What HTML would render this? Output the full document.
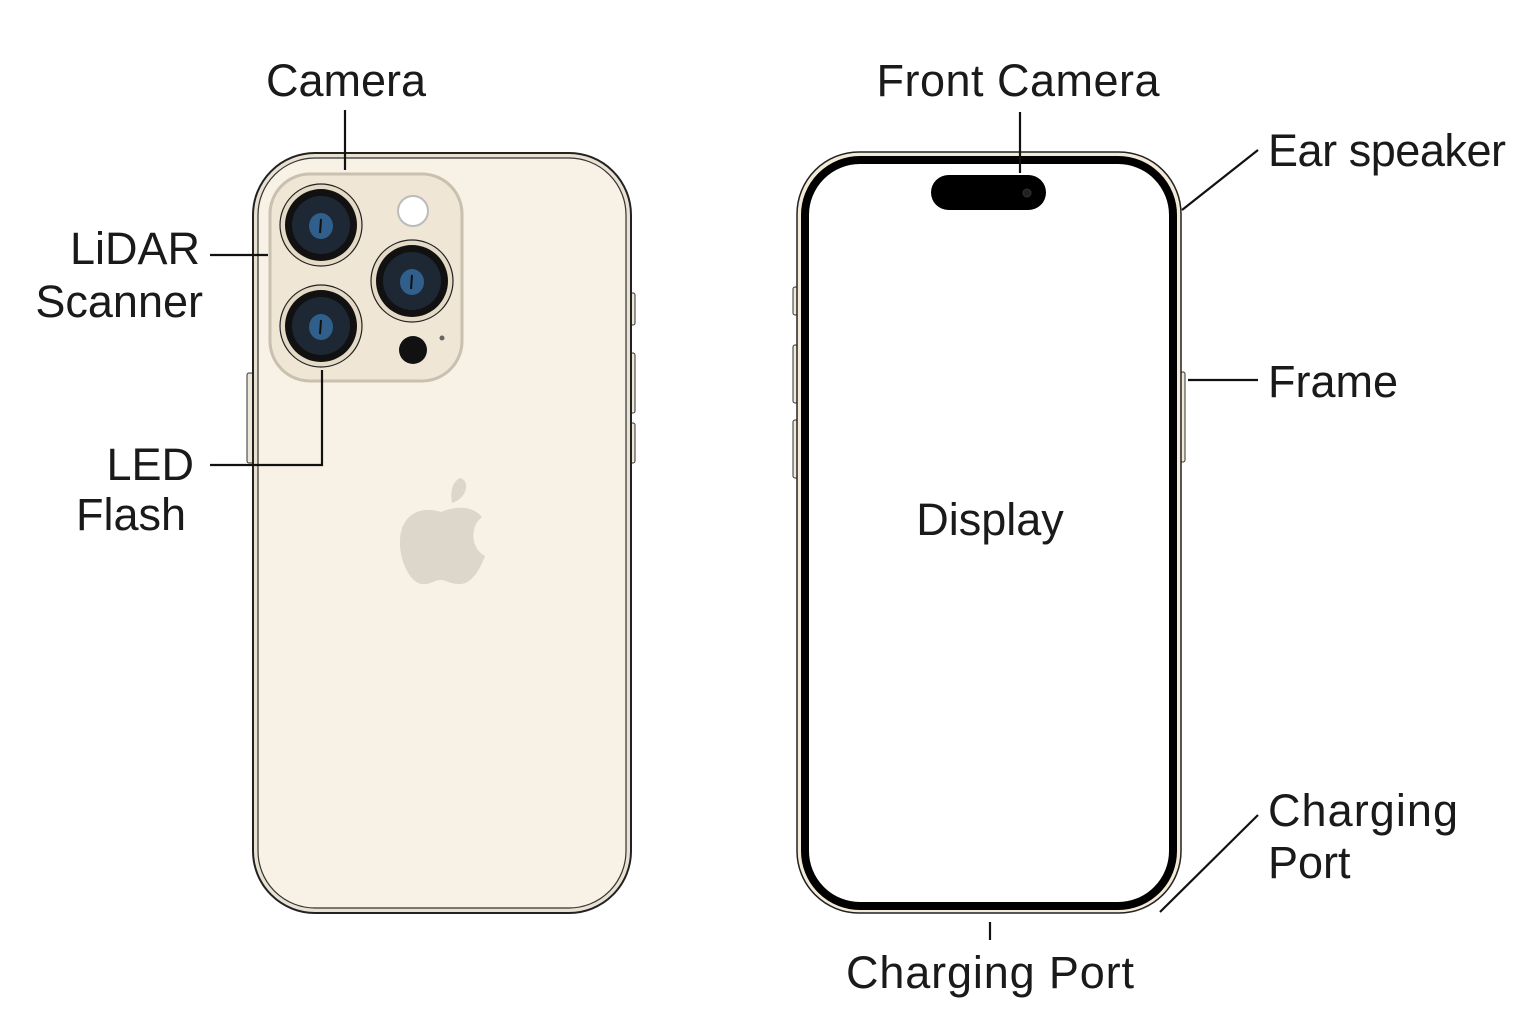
<!DOCTYPE html>
<html><head><meta charset="utf-8"><style>
html,body{margin:0;padding:0;background:#fff;}
svg{display:block;}
text{font-family:"Liberation Sans","DejaVu Sans",sans-serif;font-size:45px;fill:#1a1a1a;}
</style></head><body>
<svg width="1536" height="1024" viewBox="0 0 1536 1024" xmlns="http://www.w3.org/2000/svg">
<rect x="247" y="373" width="6" height="90" rx="2" fill="#eee6d6" stroke="#333" stroke-width="1"/>
<rect x="630" y="293" width="5" height="32" rx="2" fill="#eee6d6" stroke="#333" stroke-width="1"/>
<rect x="630" y="353" width="5" height="60" rx="2" fill="#eee6d6" stroke="#333" stroke-width="1"/>
<rect x="630" y="423" width="5" height="40" rx="2" fill="#eee6d6" stroke="#333" stroke-width="1"/>
<rect x="253" y="153" width="378" height="760" rx="62" fill="#e9e1d1" stroke="#222" stroke-width="2"/>
<rect x="258" y="158" width="368" height="750" rx="57" fill="#f8f1e5" stroke="#333" stroke-width="1.2"/>
<rect x="270" y="174" width="192" height="207" rx="40" fill="#efe6d6" stroke="#c9c0b0" stroke-width="3"/>
<g>
<circle cx="321" cy="225" r="41" fill="#e4dac6" stroke="#222" stroke-width="1.2"/>
<circle cx="321" cy="225" r="36" fill="#111" />
<circle cx="321" cy="225" r="29" fill="#1d2834"/>
<ellipse cx="321" cy="226" rx="12" ry="13" fill="#2f5f8a"/>
<line x1="321" y1="219" x2="320" y2="233" stroke="#111" stroke-width="2"/>
<circle cx="412" cy="281" r="41" fill="#e4dac6" stroke="#222" stroke-width="1.2"/>
<circle cx="412" cy="281" r="36" fill="#111" />
<circle cx="412" cy="281" r="29" fill="#1d2834"/>
<ellipse cx="412" cy="282" rx="12" ry="13" fill="#2f5f8a"/>
<line x1="412" y1="275" x2="411" y2="289" stroke="#111" stroke-width="2"/>
<circle cx="321" cy="326" r="41" fill="#e4dac6" stroke="#222" stroke-width="1.2"/>
<circle cx="321" cy="326" r="36" fill="#111" />
<circle cx="321" cy="326" r="29" fill="#1d2834"/>
<ellipse cx="321" cy="327" rx="12" ry="13" fill="#2f5f8a"/>
<line x1="321" y1="320" x2="320" y2="334" stroke="#111" stroke-width="2"/>
<circle cx="413" cy="211" r="15" fill="#fff" stroke="#bbb" stroke-width="2"/>
<circle cx="413" cy="350" r="14" fill="#111"/>
<circle cx="442" cy="338" r="2.5" fill="#666"/>
</g>
<g fill="#ddd6ca">
<path d="M460 478 C470 480 468 498 452 503 C450 492 452 482 460 478 Z"/>
<path d="M441 512 C450 508 470 503 482 517 C470 526 470 548 485 556 C479 572 470 585 459 584 C450 584 446 580 441 580 C434 580 430 585 422 584 C410 583 399 560 400 540 C401 515 420 505 441 512 Z"/>
</g>
<rect x="793" y="287" width="5" height="28" rx="2" fill="#f0e8d8" stroke="#333" stroke-width="1"/>
<rect x="793" y="345" width="5" height="58" rx="2" fill="#f0e8d8" stroke="#333" stroke-width="1"/>
<rect x="793" y="420" width="5" height="58" rx="2" fill="#f0e8d8" stroke="#333" stroke-width="1"/>
<rect x="1180" y="372" width="5" height="90" rx="2" fill="#f0e8d8" stroke="#333" stroke-width="1"/>
<rect x="797" y="152" width="384" height="761" rx="62" fill="#f3ead8" stroke="#222" stroke-width="1.5"/>
<rect x="805" y="160" width="368" height="746" rx="55" fill="#fff" stroke="#000" stroke-width="8"/>
<rect x="931" y="175" width="115" height="35" rx="17.5" fill="#000"/>
<circle cx="1027" cy="193" r="4" fill="#222" stroke="#333"/>
<g stroke="#111" stroke-width="2.2" fill="none">
<line x1="345" y1="110" x2="345" y2="170"/>
<line x1="210" y1="255" x2="268" y2="255"/>
<polyline points="210,465 322,465 322,370"/>
<line x1="1020" y1="112" x2="1020" y2="173"/>
<line x1="1182" y1="210" x2="1258" y2="150"/>
<line x1="1188" y1="380" x2="1258" y2="380"/>
<line x1="1160" y1="912" x2="1258" y2="815"/>
<line x1="990" y1="922" x2="990" y2="940"/>
</g>
<text x="346" y="96" text-anchor="middle">Camera</text>
<text x="200" y="264" text-anchor="end">LiDAR</text>
<text x="203" y="317" text-anchor="end">Scanner</text>
<text x="194" y="480" text-anchor="end">LED</text>
<text x="76" y="530">Flash</text>
<text x="1018" y="96" text-anchor="middle" textLength="283">Front Camera</text>
<text x="1268" y="166" textLength="238">Ear speaker</text>
<text x="1268" y="397" textLength="130">Frame</text>
<text x="1268" y="826" textLength="190">Charging</text>
<text x="1268" y="878">Port</text>
<text x="990" y="988" text-anchor="middle" textLength="288">Charging Port</text>
<text x="990" y="535" text-anchor="middle">Display</text>
</svg>
</body></html>
